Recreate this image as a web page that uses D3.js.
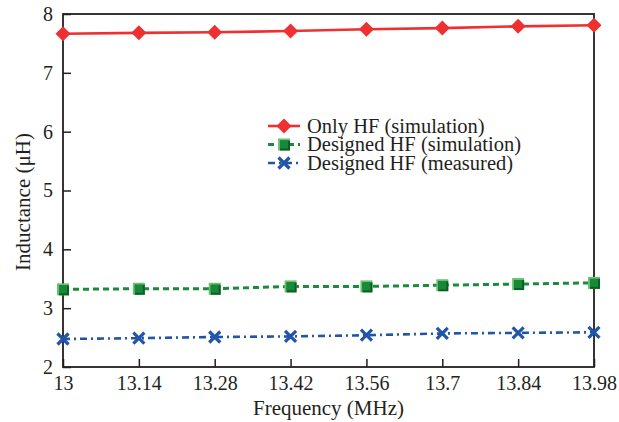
<!DOCTYPE html>
<html>
<head>
<meta charset="utf-8">
<script src="https://cdn.jsdelivr.net/npm/d3@7"></script>
<style>
  body { margin: 0; background: #fff; }
</style>
</head>
<body>
<div id="chart"></div>
<script>
// Chart data
var frequencies = [13, 13.14, 13.28, 13.42, 13.56, 13.7, 13.84, 13.98];
var tickLabels = ["13", "13.14", "13.28", "13.42", "13.56", "13.7", "13.84", "13.98"];
var onlyHF = [7.665, 7.68, 7.69, 7.71, 7.74, 7.76, 7.79, 7.81];
var designedSim = [3.32, 3.33, 3.33, 3.37, 3.37, 3.39, 3.41, 3.43];
var designedMeas = [2.476, 2.49, 2.51, 2.52, 2.54, 2.57, 2.58, 2.59];
var yTicks = [2, 3, 4, 5, 6, 7, 8];
var seriesNames = ["Only HF (simulation)", "Designed HF (simulation)", "Designed HF (measured)"];

var serif = "'Liberation Serif', 'DejaVu Serif', 'Times New Roman', serif";
var ink = "#231f20";

var margin = { top: 14, right: 25, bottom: 55, left: 63 };
var width = 619 - margin.left - margin.right,
    height = 422 - margin.top - margin.bottom;

var svg = d3.select("#chart").append("svg")
    .attr("width", 619)
    .attr("height", 422)
    .attr("font-family", serif);

var g = svg.append("g")
    .attr("transform", "translate(" + margin.left + "," + margin.top + ")");

// Scales
var x = d3.scalePoint()
    .domain(d3.range(frequencies.length))
    .range([0, width]);
var y = d3.scaleLinear()
    .domain([2, 8])
    .range([height, 0]);

// Axes (ticks pointing inward)
var xAxis = d3.axisBottom(x)
    .tickSizeInner(-8).tickSizeOuter(0)
    .tickPadding(9)
    .tickFormat(function(d, i) { return tickLabels[i]; });
var yAxis = d3.axisLeft(y)
    .tickValues(yTicks)
    .tickSizeInner(-8).tickSizeOuter(0)
    .tickPadding(10)
    .tickFormat(d3.format("d"));

var xg = g.append("g")
    .attr("transform", "translate(0," + height + ")")
    .call(xAxis);
var yg = g.append("g").call(yAxis);

[xg, yg].forEach(function(a) {
    a.attr("font-family", serif).attr("font-size", 20);
    a.select(".domain").remove();
    a.selectAll(".tick line").attr("stroke", ink).attr("stroke-width", 1.5);
    a.selectAll(".tick text").attr("fill", ink);
});

// Frame
g.append("rect")
    .attr("width", width).attr("height", height)
    .attr("fill", "none")
    .attr("stroke", ink)
    .attr("stroke-width", 1.8);

// Axis titles
svg.append("text")
    .attr("x", margin.left + width / 2)
    .attr("y", 415)
    .attr("text-anchor", "middle")
    .attr("font-size", 21)
    .attr("fill", ink)
    .text("Frequency (MHz)");
svg.append("text")
    .attr("transform", "translate(30," + 202 + ") rotate(-90)")
    .attr("text-anchor", "middle")
    .attr("font-size", 21)
    .attr("fill", ink)
    .text("Inductance (\u03bcH)");

var line = d3.line()
    .x(function(d, i) { return x(i); })
    .y(function(d) { return y(d); });

var red = "#ee3030", green = "#1b8a3c", blue = "#2155a8";

// Lines
g.append("path").datum(designedMeas)
    .attr("d", line).attr("fill", "none")
    .attr("stroke", blue).attr("stroke-width", 2.6)
    .attr("stroke-dasharray", "7,4,2,4");
g.append("path").datum(designedSim)
    .attr("d", line).attr("fill", "none")
    .attr("stroke", green).attr("stroke-width", 3)
    .attr("stroke-dasharray", "6,4");
g.append("path").datum(onlyHF)
    .attr("d", line).attr("fill", "none")
    .attr("stroke", red).attr("stroke-width", 2.6);

// Marker helpers
function diamond(sel) {
    sel.append("path")
        .attr("d", "M0,-7.5L7.5,0L0,7.5L-7.5,0Z")
        .attr("fill", red);
}
function square(sel) {
    sel.append("rect").attr("x", -6).attr("y", -6).attr("width", 12).attr("height", 12)
        .attr("fill", "#6cc070");
    sel.append("rect").attr("x", -4).attr("y", -4).attr("width", 10).attr("height", 10)
        .attr("fill", "#0b5e26");
    sel.append("rect").attr("x", -4).attr("y", -4).attr("width", 8).attr("height", 8)
        .attr("fill", "#168a38");
}
function cross(sel) {
    sel.append("path")
        .attr("d", "M-5.5,-5.5L5.5,5.5M-5.5,5.5L5.5,-5.5")
        .attr("stroke", blue).attr("stroke-width", 3.2)
        .attr("fill", "none");
}

function markers(data, fn) {
    g.selectAll(null).data(data).enter().append("g")
        .attr("transform", function(d, i) { return "translate(" + x(i) + "," + y(d) + ")"; })
        .each(function() { fn(d3.select(this)); });
}
markers(designedMeas, cross);
markers(designedSim, square);
markers(onlyHF, diamond);

// Legend
var legendRows = [
    { name: seriesNames[0], color: red, dash: null, w: 2.6, mark: diamond },
    { name: seriesNames[1], color: green, dash: "6,4", w: 3, mark: square },
    { name: seriesNames[2], color: blue, dash: "7,4,2,4", w: 2.6, mark: cross }
];
var legend = svg.append("g").attr("transform", "translate(268,126)");
legendRows.forEach(function(r, i) {
    var row = legend.append("g").attr("transform", "translate(0," + (i * 18.5) + ")");
    row.append("line")
        .attr("x1", 0).attr("x2", 32)
        .attr("stroke", r.color).attr("stroke-width", r.w)
        .attr("stroke-dasharray", r.dash);
    var m = row.append("g").attr("transform", "translate(16,0)");
    r.mark(m);
    row.append("text")
        .attr("x", 39).attr("y", 6.5)
        .attr("font-size", 20.5)
        .attr("fill", ink)
        .text(r.name);
});
</script>
</body>
</html>
